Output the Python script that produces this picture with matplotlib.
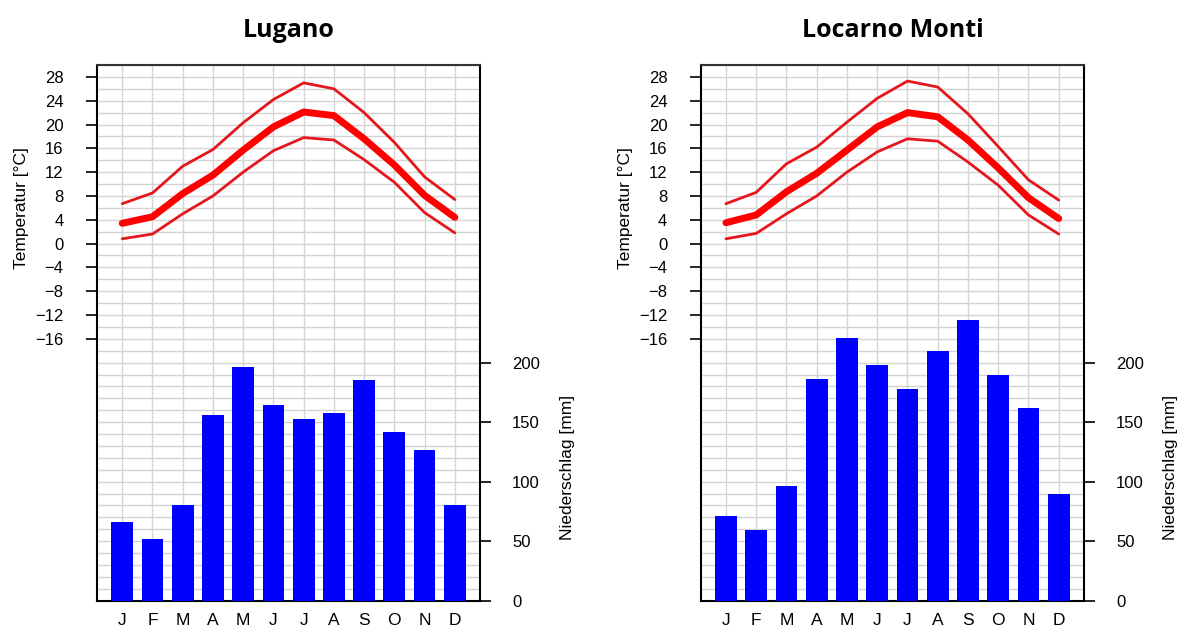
import numpy as np
import matplotlib
matplotlib.use('Agg')
import matplotlib.pyplot as plt
import matplotlib.transforms as mtransforms

plt.rcParams['font.family'] = ['Liberation Sans', 'DejaVu Sans']

months = ['J', 'F', 'M', 'A', 'M', 'J', 'J', 'A', 'S', 'O', 'N', 'D']

# Lugano
lugano_tmax = [6.7, 8.5, 13.0, 15.8, 20.3, 24.2, 27.0, 26.0, 22.0, 17.0, 11.2, 7.4]
lugano_tmean = [3.4, 4.5, 8.4, 11.5, 15.7, 19.6, 22.1, 21.5, 17.6, 13.2, 8.1, 4.4]
lugano_tmin = [0.8, 1.6, 5.0, 8.0, 12.0, 15.6, 17.8, 17.4, 14.1, 10.3, 5.2, 1.8]
lugano_precip = [66, 52, 80, 156, 196, 164, 153, 158, 185, 142, 127, 80]

# Locarno Monti
locarno_tmax = [6.7, 8.6, 13.4, 16.2, 20.4, 24.4, 27.3, 26.3, 21.8, 16.3, 10.7, 7.3]
locarno_tmean = [3.5, 4.8, 8.7, 11.8, 15.7, 19.6, 22.0, 21.3, 17.4, 12.7, 7.7, 4.2]
locarno_tmin = [0.8, 1.7, 5.0, 8.0, 12.0, 15.4, 17.6, 17.2, 13.7, 9.8, 4.8, 1.6]
locarno_precip = [71, 59, 96, 186, 221, 198, 178, 210, 236, 190, 162, 90]

temp_ticks = list(range(28, -17, -4))
precip_ticks = [0, 50, 100, 150, 200]


def draw_station(ax, title, tmax, tmean, tmin, precip):
    x = np.arange(len(months))
    ax.set_xlim(-0.835, 11.835)
    ax.set_ylim(-60, 30)
    ax.set_xticks(x)
    ax.set_xticklabels(months)
    ax.set_yticks(temp_ticks)
    ax.set_yticks(np.arange(-60, 31, 2), minor=True)
    ax.grid(True, which='both', axis='y', color='#d4d4d4', lw=1.0)
    ax.grid(True, which='major', axis='x', color='#d4d4d4', lw=1.0)
    ax.set_axisbelow(True)
    ax.tick_params(axis='y', which='major', length=8, width=1.2, pad=16, labelsize=12)
    ax.tick_params(axis='y', which='minor', length=0)
    ax.tick_params(axis='x', length=0, pad=9, labelsize=12.5)

    ax.plot(x, tmax, color='#e5161c', lw=2.0, solid_capstyle='round', zorder=3)
    ax.plot(x, tmin, color='#e5161c', lw=2.0, solid_capstyle='round', zorder=3)
    ax.plot(x, tmean, color='#ff0000', lw=5.0, solid_capstyle='round', zorder=4)

    for s in ax.spines.values():
        s.set_linewidth(1.5)
        s.set_color('black')
    ax.spines['top'].set_color('#333333')

    ax2 = ax.twinx()
    ax2.set_ylim(0, 450)
    ax2.bar(x, precip, width=0.72, color='#0000ff', zorder=3)
    ax2.set_yticks(precip_ticks)
    ax2.tick_params(axis='y', length=8, width=1.2, pad=15, labelsize=12)
    for s in ax2.spines.values():
        s.set_visible(False)

    trans = mtransforms.blended_transform_factory(ax.transAxes, ax.transData)
    ax.text(-0.196, 6, 'Temperatur [°C]', transform=trans, rotation=90,
            ha='center', va='center', fontsize=12.5)
    trans2 = mtransforms.blended_transform_factory(ax2.transAxes, ax2.transData)
    ax2.text(1.227, 112, 'Niederschlag [mm]', transform=trans2, rotation=90,
             ha='center', va='center', fontsize=12.5)

    ax.set_title(title, fontsize=18, fontweight='bold', family='Open Sans', pad=20)


fig = plt.figure(figsize=(11.83, 6.28), dpi=100)
ax_l = fig.add_axes([0.0820, 0.0435, 0.3238, 0.853])
ax_r = fig.add_axes([0.5923, 0.0435, 0.3240, 0.853])

draw_station(ax_l, 'Lugano', lugano_tmax, lugano_tmean, lugano_tmin, lugano_precip)
draw_station(ax_r, 'Locarno Monti', locarno_tmax, locarno_tmean, locarno_tmin, locarno_precip)

fig.savefig('out.png', dpi=100)
